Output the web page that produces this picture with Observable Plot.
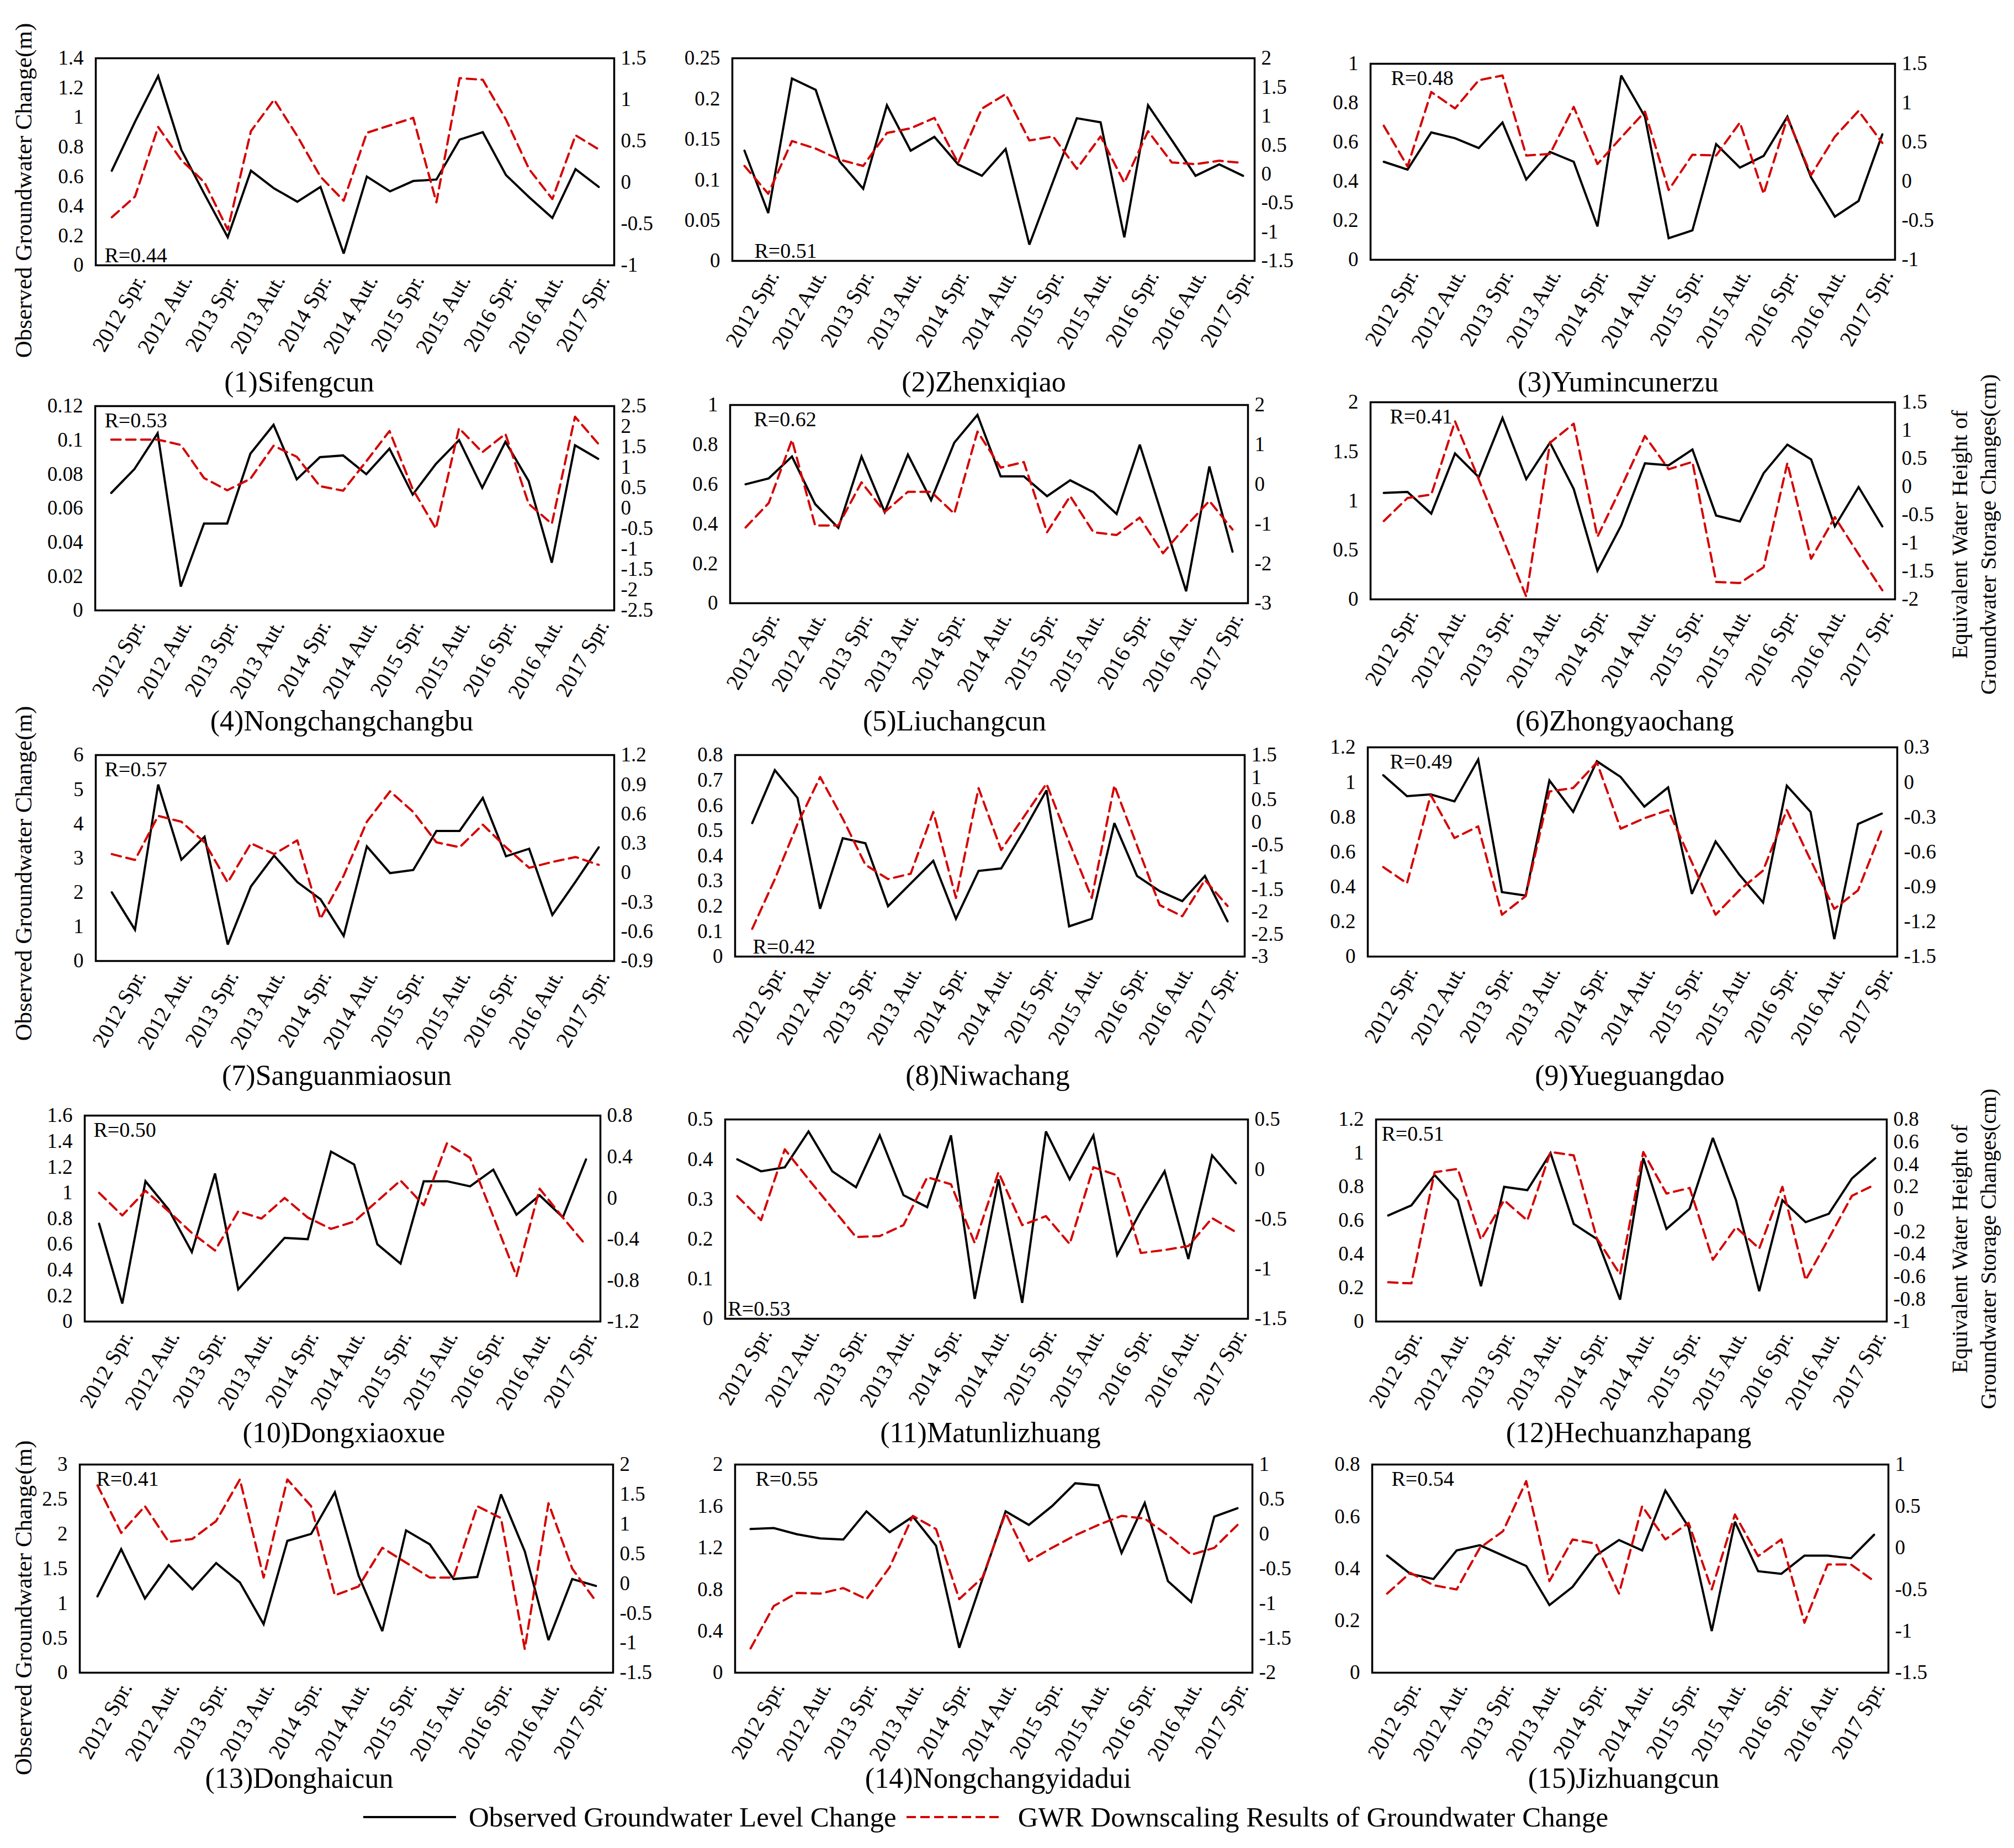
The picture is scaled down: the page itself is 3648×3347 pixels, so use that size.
<!DOCTYPE html>
<html><head><meta charset="utf-8">
<script src="https://cdn.jsdelivr.net/npm/d3@7"></script>
<script src="https://cdn.jsdelivr.net/npm/@observablehq/plot@0.6"></script>
<style>
body{margin:0;background:#fff;}
#root{position:relative;width:3648px;height:3347px;background:#fff;font-family:"Liberation Serif","Times New Roman",serif;overflow:hidden;color:#000;}
.abs{position:absolute;white-space:nowrap;}
</style></head><body><div id="root"></div>
<script>
// ---------- DATA ----------
const seasons = ["2011 Win.","2012 Spr.","2012 Sum.","2012 Aut.","2012 Win.","2013 Spr.","2013 Sum.","2013 Aut.","2013 Win.",
  "2014 Spr.","2014 Sum.","2014 Aut.","2014 Win.","2015 Spr.","2015 Sum.","2015 Aut.","2015 Win.",
  "2016 Spr.","2016 Sum.","2016 Aut.","2016 Win.","2017 Spr."];
const tickLabels = ["2012 Spr.","2012 Aut.","2013 Spr.","2013 Aut.","2014 Spr.","2014 Aut.","2015 Spr.","2015 Aut.","2016 Spr.","2016 Aut.","2017 Spr."];
const stations = ["(1)Sifengcun","(2)Zhenxiqiao","(3)Yumincunerzu","(4)Nongchangchangbu","(5)Liuchangcun","(6)Zhongyaochang",
  "(7)Sanguanmiaosun","(8)Niwachang","(9)Yueguangdao","(10)Dongxiaoxue","(11)Matunlizhuang","(12)Hechuanzhapang",
  "(13)Donghaicun","(14)Nongchangyidadui","(15)Jizhuangcun"];
const rLabels = ["R=0.44","R=0.51","R=0.48","R=0.53","R=0.62","R=0.41","R=0.57","R=0.42","R=0.49","R=0.50","R=0.53","R=0.51","R=0.41","R=0.55","R=0.54"];
// [min, max, step] of left (observed, m) and right (GWR, cm) axes
const leftAxes = [[0,1.4,0.2],[0,0.25,0.05],[0,1,0.2],[0,0.12,0.02],[0,1,0.2],[0,2,0.5],[0,6,1],[0,0.8,0.1],[0,1.2,0.2],
  [0,1.6,0.2],[0,0.5,0.1],[0,1.2,0.2],[0,3,0.5],[0,2,0.4],[0,0.8,0.2]];
const rightAxes = [[-1,1.5,0.5],[-1.5,2,0.5],[-1,1.5,0.5],[-2.5,2.5,0.5],[-3,2,1],[-2,1.5,0.5],[-0.9,1.2,0.3],[-3,1.5,0.5],[-1.5,0.3,0.3],
  [-1.2,0.8,0.4],[-1.5,0.5,0.5],[-1,0.8,0.2],[-1.5,2,0.5],[-2,1,0.5],[-1.5,1,0.5]];

const obs1 = [0.64,0.97,1.28,0.78,0.48,0.19,0.64,0.52,0.43,0.53,0.08,0.60,0.50,0.57,0.58,0.85,0.90,0.61,0.46,0.32,0.65,0.53];
const gwr1 = [-0.42,-0.17,0.67,0.27,0.0,-0.57,0.62,1.0,0.56,0.07,-0.22,0.6,0.69,0.78,-0.24,1.26,1.24,0.76,0.16,-0.2,0.57,0.4];
const obs2 = [0.136,0.059,0.225,0.211,0.123,0.089,0.192,0.136,0.153,0.119,0.105,0.138,0.020,0.098,0.176,0.171,0.029,0.192,0.149,0.105,0.119,0.105];
const gwr2 = [0.14,-0.34,0.57,0.44,0.25,0.14,0.71,0.79,0.97,0.19,1.13,1.38,0.58,0.65,0.09,0.65,-0.15,0.74,0.2,0.17,0.23,0.19];
const obs3 = [0.50,0.46,0.65,0.62,0.57,0.70,0.41,0.55,0.50,0.17,0.94,0.73,0.11,0.15,0.59,0.47,0.53,0.73,0.42,0.22,0.30,0.64];
const gwr3 = [0.71,0.19,1.14,0.93,1.29,1.35,0.33,0.35,0.95,0.22,0.56,0.89,-0.11,0.34,0.33,0.75,-0.16,0.81,0.08,0.57,0.9,0.49];
const obs4 = [0.069,0.083,0.104,0.014,0.051,0.051,0.092,0.109,0.077,0.090,0.091,0.080,0.095,0.068,0.086,0.100,0.072,0.099,0.076,0.028,0.097,0.089];
const gwr4 = [1.68,1.68,1.68,1.55,0.74,0.44,0.72,1.53,1.26,0.54,0.43,1.15,1.89,0.47,-0.5,1.96,1.37,1.82,0.11,-0.38,2.24,1.58];
const obs5 = [0.60,0.63,0.74,0.50,0.38,0.74,0.46,0.75,0.52,0.81,0.95,0.64,0.64,0.54,0.62,0.56,0.45,0.80,0.43,0.06,0.69,0.26];
const gwr5 = [-1.09,-0.47,1.12,-1.04,-1.04,0.05,-0.7,-0.19,-0.19,-0.74,1.33,0.42,0.56,-1.21,-0.3,-1.21,-1.28,-0.84,-1.74,-1.05,-0.42,-1.14];
const obs6 = [1.08,1.09,0.87,1.48,1.24,1.84,1.22,1.59,1.12,0.29,0.75,1.38,1.36,1.52,0.85,0.79,1.28,1.57,1.42,0.74,1.14,0.74];
const gwr6 = [-0.61,-0.2,-0.14,1.16,0.13,-0.91,-1.95,0.78,1.12,-0.89,-0.01,0.9,0.31,0.44,-1.69,-1.71,-1.43,0.42,-1.28,-0.54,-1.2,-1.84];
const obs7 = [2.0,0.91,5.14,2.95,3.62,0.48,2.17,3.07,2.30,1.80,0.73,3.34,2.56,2.65,3.79,3.79,4.75,3.05,3.27,1.34,2.31,3.31];
const gwr7 = [0.19,0.13,0.58,0.52,0.31,-0.1,0.3,0.19,0.33,-0.47,-0.03,0.52,0.83,0.62,0.31,0.26,0.49,0.26,0.05,0.11,0.16,0.08];
const obs8 = [0.53,0.74,0.63,0.19,0.47,0.45,0.20,0.29,0.38,0.15,0.34,0.35,0.50,0.66,0.12,0.15,0.53,0.32,0.26,0.22,0.32,0.14];
const gwr8 = [-2.38,-1.27,-0.04,1.01,0.08,-0.95,-1.27,-1.15,0.23,-1.69,0.76,-0.62,0.12,0.86,-0.44,-1.69,0.82,-0.52,-1.85,-2.1,-1.29,-1.87];
const obs9 = [1.04,0.92,0.93,0.89,1.13,0.37,0.35,1.01,0.83,1.12,1.03,0.86,0.97,0.36,0.66,0.47,0.31,0.98,0.83,0.10,0.76,0.82];
const gwr9 = [-0.73,-0.87,-0.11,-0.48,-0.38,-1.14,-0.98,-0.08,-0.05,0.17,-0.4,-0.31,-0.24,-0.69,-1.14,-0.93,-0.76,-0.24,-0.67,-1.09,-0.93,-0.41];
const obs10 = [0.76,0.14,1.09,0.87,0.54,1.15,0.25,0.45,0.65,0.64,1.32,1.22,0.60,0.45,1.09,1.09,1.05,1.18,0.83,0.98,0.81,1.26];
const gwr10 = [0.05,-0.17,0.07,-0.13,-0.34,-0.51,-0.13,-0.2,0.0,-0.19,-0.3,-0.23,-0.03,0.17,-0.07,0.53,0.39,-0.18,-0.76,0.09,-0.19,-0.46];
const obs11 = [0.40,0.37,0.38,0.47,0.37,0.33,0.46,0.31,0.28,0.46,0.05,0.35,0.04,0.47,0.35,0.46,0.16,0.27,0.37,0.15,0.41,0.34];
const gwr11 = [-0.27,-0.51,0.2,-0.1,-0.39,-0.68,-0.67,-0.56,-0.08,-0.15,-0.74,-0.03,-0.56,-0.47,-0.75,0.02,-0.06,-0.84,-0.81,-0.77,-0.49,-0.63];
const obs12 = [0.63,0.69,0.87,0.72,0.21,0.80,0.78,1.00,0.58,0.49,0.13,0.97,0.55,0.67,1.09,0.72,0.18,0.72,0.59,0.64,0.85,0.97];
const gwr12 = [-0.65,-0.66,0.33,0.36,-0.27,0.08,-0.1,0.51,0.48,-0.26,-0.58,0.51,0.14,0.19,-0.45,-0.16,-0.35,0.2,-0.63,-0.26,0.12,0.22];
const obs13 = [1.10,1.78,1.07,1.55,1.20,1.58,1.30,0.70,1.90,2.00,2.60,1.40,0.60,2.05,1.85,1.35,1.38,2.57,1.75,0.47,1.35,1.25];
const gwr13 = [1.65,0.85,1.3,0.7,0.75,1.05,1.75,0.1,1.75,1.3,-0.2,-0.05,0.6,0.35,0.1,0.1,1.3,1.1,-1.1,1.35,0.25,-0.3];
const obs14 = [1.38,1.39,1.33,1.29,1.28,1.55,1.35,1.50,1.22,0.24,0.90,1.55,1.42,1.60,1.82,1.80,1.15,1.63,0.88,0.68,1.50,1.58];
const gwr14 = [-1.65,-1.04,-0.85,-0.86,-0.78,-0.94,-0.48,0.26,0.07,-0.94,-0.63,0.3,-0.39,-0.2,-0.02,0.13,0.26,0.22,-0.02,-0.3,-0.2,0.13];
const obs15 = [0.45,0.38,0.36,0.47,0.49,0.45,0.41,0.26,0.33,0.45,0.51,0.47,0.70,0.56,0.16,0.58,0.39,0.38,0.45,0.45,0.44,0.53];
const gwr15 = [-0.55,-0.3,-0.45,-0.5,0.0,0.2,0.8,-0.4,0.1,0.05,-0.55,0.5,0.1,0.3,-0.5,0.4,-0.1,0.1,-0.9,-0.2,-0.2,-0.4];

const obsSeries = [obs1,obs2,obs3,obs4,obs5,obs6,obs7,obs8,obs9,obs10,obs11,obs12,obs13,obs14,obs15];
const gwrSeries = [gwr1,gwr2,gwr3,gwr4,gwr5,gwr6,gwr7,gwr8,gwr9,gwr10,gwr11,gwr12,gwr13,gwr14,gwr15];

// ---------- LAYOUT (page pixels) ----------
const frames = [
  {x:173,y:105,w:939,h:375},{x:1326,y:105,w:946,h:367},{x:2482,y:115,w:950,h:355},
  {x:172,y:735,w:940,h:370},{x:1322,y:733,w:938,h:359},{x:2482,y:728,w:950,h:357},
  {x:173,y:1367,w:939,h:373},{x:1331,y:1367,w:923,h:365},{x:2477,y:1353,w:959,h:379},
  {x:153,y:2020,w:934,h:373},{x:1313,y:2027,w:947,h:361},{x:2492,y:2027,w:925,h:366},
  {x:144,y:2652,w:966,h:377},{x:1331,y:2652,w:937,h:377},{x:2485,y:2652,w:935,h:377}
];
const rPos = ["bl","bl","tl","tl","tl","tl","tl","bl","tl","tl","bl","tl","tl","tl","tl"];
const rDx = [16,40,37,17,43,35,16,32,40,16,5,10,30,37,35];
const titleCenters = [
  {x:542,y:691},{x:1782,y:691},{x:2931,y:691},
  {x:619,y:1305},{x:1729,y:1305},{x:2943,y:1305},
  {x:610,y:1947},{x:1789,y:1947},{x:2952,y:1947},
  {x:623,y:2594},{x:1794,y:2594},{x:2950,y:2594},
  {x:542,y:3220},{x:1808,y:3220},{x:2941,y:3220}
];

const FONT = "'Liberation Serif', 'Times New Roman', serif";
const fmt = d => String(Math.round(d * 10000) / 10000);
const ticksOf = ([a, b, s]) => d3.range(0, Math.round((b - a) / s) + 1).map(k => Math.round((a + k * s) * 10000) / 10000);

const root = document.getElementById("root");
const mL = 150, mR = 150, mT = 30, mB = 260;

function place(el, left, top) {
  el.style.position = "absolute";
  el.style.left = left + "px";
  el.style.top = top + "px";
  root.appendChild(el);
}

for (let i = 0; i < 15; i++) {
  const f = frames[i];
  const W = f.w + mL + mR, H = f.h + mT + mB;
  const data = seasons.map((s, k) => ({season: s, obs: obsSeries[i][k], gwr: gwrSeries[i][k]}));
  const la = leftAxes[i], ra = rightAxes[i];
  const xScale = {type: "point", domain: seasons, padding: 0.5, axis: null};
  const common = {width: W, height: H, marginLeft: mL, marginRight: mR, marginTop: mT, marginBottom: mB,
    style: {fontFamily: FONT, fontSize: "36px", color: "#000", background: "transparent", overflow: "visible"}};
  const isTop = rPos[i] === "tl";
  const base = Plot.plot({
    ...common,
    x: xScale,
    y: {domain: [la[0], la[1]], axis: null},
    marks: [
      Plot.axisX({ticks: tickLabels, tickRotate: -60, tickSize: 0, tickPadding: 20, dx: 10, fontSize: 40, fontFamily: FONT, label: null}),
      Plot.axisY({anchor: "left", ticks: ticksOf(la), tickFormat: fmt, tickSize: 0, tickPadding: 22, fontSize: 37, fontFamily: FONT, label: null}),
      Plot.line(data, {x: "season", y: "obs", stroke: "#000", strokeWidth: 4, strokeLinejoin: "miter", strokeMiterlimit: 3}),
      Plot.text([rLabels[i]], {frameAnchor: isTop ? "top-left" : "bottom-left", dx: rDx[i], dy: isTop ? 12 : -6,
        textAnchor: "start", lineAnchor: isTop ? "top" : "bottom", fontSize: 38, fontFamily: FONT, fill: "#000"}),
      Plot.frame({stroke: "#000", strokeWidth: 3.5})
    ]
  });
  const over = Plot.plot({
    ...common,
    x: xScale,
    y: {domain: [ra[0], ra[1]], axis: null},
    marks: [
      Plot.axisY({anchor: "right", ticks: ticksOf(ra), tickFormat: fmt, tickSize: 0, tickPadding: 12, fontSize: 37, fontFamily: FONT, label: null}),
      Plot.line(data, {x: "season", y: "gwr", stroke: "#d40000", strokeWidth: 4, strokeDasharray: "17,10"})
    ]
  });
  place(base, f.x - mL, f.y - mT);
  over.style.pointerEvents = "none";
  place(over, f.x - mL, f.y - mT);

  const t = document.createElement("div");
  t.className = "abs";
  t.textContent = stations[i];
  t.style.fontSize = "52px";
  t.style.transform = "translate(-50%,-50%)";
  place(t, titleCenters[i].x, titleCenters[i].y);
}

// left axis titles
const leftTitleCenters = [{x:42,y:345},{x:42,y:1582},{x:42,y:2912}];
for (const c of leftTitleCenters) {
  const d = document.createElement("div");
  d.className = "abs";
  d.textContent = "Observed Groundwater Change(m)";
  d.style.fontSize = "43px";
  d.style.transform = "translate(-50%,-50%) rotate(-90deg)";
  place(d, c.x, c.y);
}
// right axis titles
const rightTitleCenters = [{x:3575,y:968},{x:3575,y:2262}];
for (const c of rightTitleCenters) {
  const d = document.createElement("div");
  d.className = "abs";
  d.innerHTML = "Equivalent Water Height of<br>Groundwater Storage Changes(cm)";
  d.style.fontSize = "41px";
  d.style.lineHeight = "52px";
  d.style.textAlign = "center";
  d.style.transform = "translate(-50%,-50%) rotate(-90deg)";
  place(d, c.x, c.y);
}

// legend
const leg = document.createElement("div");
leg.className = "abs";
leg.style.display = "flex";
leg.style.alignItems = "center";
leg.style.fontSize = "51px";
leg.innerHTML =
  '<svg width="168" height="20"><line x1="0" y1="10" x2="168" y2="10" stroke="#000" stroke-width="4"/></svg>' +
  '<span style="margin-left:23px;margin-right:18px">Observed Groundwater Level Change</span>' +
  '<svg width="172" height="20"><line x1="0" y1="10" x2="172" y2="10" stroke="#d40000" stroke-width="4" stroke-dasharray="17,8"/></svg>' +
  '<span style="margin-left:30px">GWR Downscaling Results of Groundwater Change</span>';
place(leg, 658, 3262);
</script></body></html>
